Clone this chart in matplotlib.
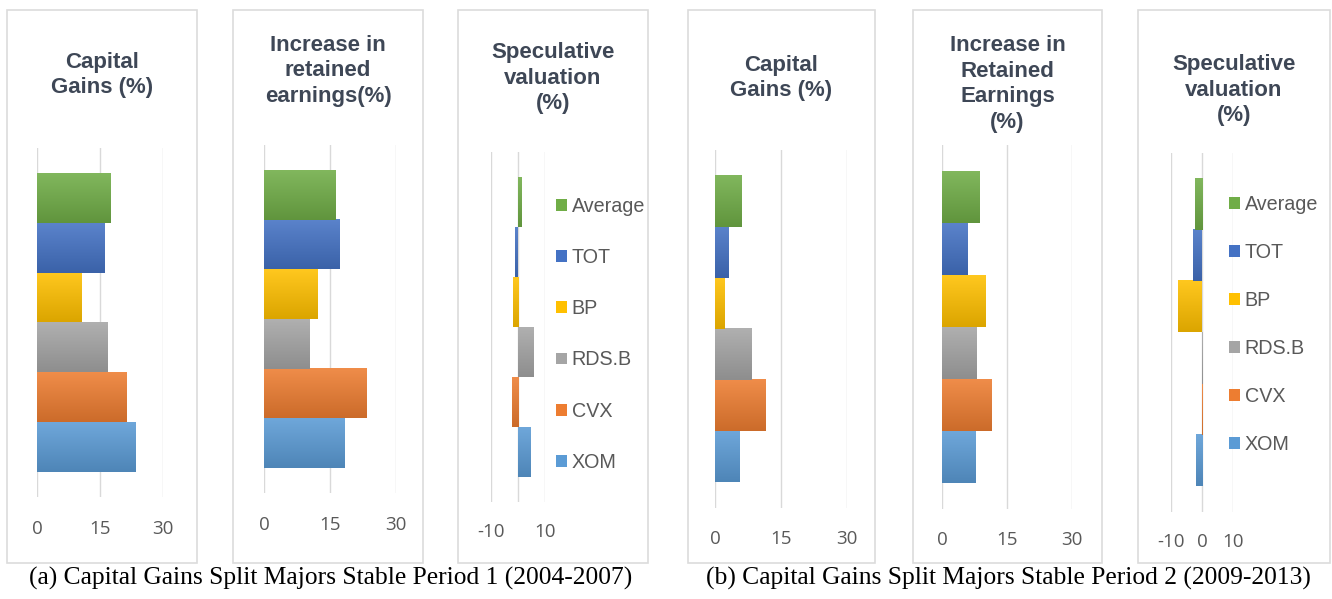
import numpy as np
import matplotlib
matplotlib.use("Agg")
from matplotlib import pyplot as plt
from matplotlib import colors as mcolors
from matplotlib.patches import Rectangle, Patch

# series (bottom to top in each panel)
companies = ['XOM', 'CVX', 'RDS.B', 'BP', 'TOT', 'Average']
bar_colors = ['#5B9BD5', '#ED7D31', '#A5A5A5', '#FFC000', '#4472C4', '#70AD47']

# period 1 (2004-2007)
p1_capital_gains = [23.5, 21.3, 16.8, 10.6, 16.1, 17.6]
p1_retained = [18.3, 23.4, 10.3, 12.2, 17.1, 16.3]
p1_speculative = [4.7, -2.3, 5.9, -2.0, -1.1, 1.2]
# period 2 (2009-2013)
p2_capital_gains = [5.6, 11.4, 8.2, 2.2, 3.1, 6.1]
p2_retained = [7.8, 11.5, 8.0, 10.0, 5.8, 8.6]
p2_speculative = [-2.0, -0.1, 0.1, -7.6, -2.8, -2.3]

titles = ['Capital\nGains (%)', 'Increase in\nretained\nearnings(%)', 'Speculative\nvaluation\n(%)',
          'Capital\nGains (%)', 'Increase in\nRetained\nEarnings\n(%)', 'Speculative\nvaluation\n(%)']
pos_ticks = [0, 15, 30]
pos_ticklabels = ['0', '15', '30']
spec_ticks = [-10, 0, 10]
spec_ticklabels_a = ['-10', '', '10']
spec_ticklabels_b = ['-10', '0', '10']
captions = ['(a) Capital Gains Split Majors Stable Period 1 (2004-2007)',
            '(b) Capital Gains Split Majors Stable Period 2 (2009-2013)']

W, H = 1332, 599
fig = plt.figure(figsize=(W / 100, H / 100), dpi=100)

def fx(px):
    return px / W

def fy(py):
    return 1 - py / H

# layout in pixels: box (l, r, t, b), grid (x_min px, x_max px, top px, bottom px)
layout = [
    dict(box=(7, 197, 10, 563), grid=(37, 163, 148, 497), title_y=75, pad=16.5),
    dict(box=(233, 423, 10, 563), grid=(264, 396, 145, 493), title_y=71, pad=16.5),
    dict(box=(458, 648, 10, 563), grid=(491, 545, 152, 502), title_y=78, pad=15, legend=(556, 197)),
    dict(box=(688, 875, 10, 563), grid=(715, 847, 150, 508), title_y=78, pad=15.5),
    dict(box=(913, 1102, 10, 563), grid=(942, 1072, 145, 509), title_y=84, pad=15.5),
    dict(box=(1138, 1330, 10, 563), grid=(1171, 1233, 153, 512), title_y=90, pad=15, legend=(1229, 195)),
]
values = [p1_capital_gains, p1_retained, p1_speculative, p2_capital_gains, p2_retained, p2_speculative]
xlims = [(0, 30), (0, 30), (-10, 10), (0, 30), (0, 30), (-10, 10)]
ticks = [pos_ticks, pos_ticks, spec_ticks, pos_ticks, pos_ticks, spec_ticks]
ticklabels = [pos_ticklabels, pos_ticklabels, spec_ticklabels_a, pos_ticklabels, pos_ticklabels, spec_ticklabels_b]

title_color = '#3E4756'
label_color = '#595959'
grid_color = '#D9D9D9'


def gradient_fill(ax, bars, cols):
    for bar, c in zip(bars, cols):
        x0, y0 = bar.get_x(), bar.get_y()
        w, h = bar.get_width(), bar.get_height()
        rgb = np.array(mcolors.to_rgb(c))
        top = rgb + (1 - rgb) * 0.12
        bot = rgb * 0.86
        g = np.linspace(0, 1, 64)[:, None, None]
        img = top * (1 - g) + bot * g
        ax.imshow(img, extent=(min(x0, x0 + w), max(x0, x0 + w), y0, y0 + h),
                  origin='upper', aspect='auto', zorder=2, interpolation='bilinear')
        bar.set_visible(False)


for i, lay in enumerate(layout):
    l, r, t, b = lay['box']
    fig.add_artist(Rectangle((fx(l), fy(b)), fx(r - l), (b - t) / H, transform=fig.transFigure,
                             fill=False, edgecolor='#DCDCDC', lw=1.2))
    fig.text(fx((l + r) / 2), fy(lay['title_y']), titles[i], ha='center', va='center',
             fontsize=16, fontweight='bold', color=title_color, family='Liberation Sans',
             linespacing=1.3)

    gx0, gx1, gt, gb = lay['grid']
    ax = fig.add_axes([fx(gx0), fy(gb), fx(gx1 - gx0), (gb - gt) / H])
    ypos = np.arange(len(companies))
    bars = ax.barh(ypos, values[i], height=1.0, color=bar_colors, zorder=2)
    gradient_fill(ax, bars, bar_colors)
    ax.set_xlim(*xlims[i])
    ax.set_ylim(-1, len(companies))
    ax.set_xticks(ticks[i])
    ax.set_xticklabels(ticklabels[i], family='Open Sans', fontsize=13.5, color=label_color)
    ax.set_yticks([])
    ax.tick_params(axis='x', length=0, pad=lay['pad'])
    ax.grid(axis='x', color=grid_color, lw=1.0, zorder=0)
    for s in ax.spines.values():
        s.set_visible(False)
    ax.patch.set_alpha(0)

    if 'legend' in lay:
        lx, ly = lay['legend']
        handles = [Patch(facecolor=c) for c in bar_colors[::-1]]
        ax.legend(handles, companies[::-1], loc='upper left',
                  bbox_to_anchor=(fx(lx), fy(ly)), bbox_transform=fig.transFigure,
                  frameon=False, borderpad=0, borderaxespad=0,
                  handlelength=0.55, handleheight=0.55, handletextpad=0.25,
                  labelspacing=1.63 if i == 2 else 1.47,
                  prop={'family': 'Liberation Sans', 'size': 14.2}, labelcolor=label_color)

fig.text(fx(331), fy(578), captions[0], ha='center', va='center', fontsize=18.4,
         family='Liberation Serif', color='black')
fig.text(fx(1008), fy(578), captions[1], ha='center', va='center', fontsize=18.4,
         family='Liberation Serif', color='black')

fig.savefig('out.png', dpi=100)
